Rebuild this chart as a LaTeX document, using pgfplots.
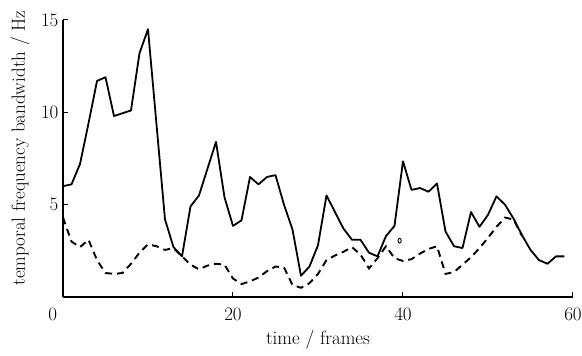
\documentclass[border=0pt]{standalone}
\usepackage{fontspec}
\usepackage{pgfplots}
\pgfplotsset{compat=1.18}
\begin{document}
\fontsize{19}{23}\selectfont
\begin{tikzpicture}
\path[use as bounding box] (-63pt,-59pt) rectangle (519pt,297pt);
\begin{axis}[
 at={(0pt,0pt)}, anchor=south west,
 scale only axis, width=510pt, height=277pt,
 xmin=0, xmax=60, ymin=0, ymax=15,
 /pgf/number format/assume math mode=true,
 axis lines*=left, axis line style={-, line width=1.3pt},
 xtick={0,20,40,60}, xticklabels={\makebox[0pt][r]{0\hspace{6pt}},20,40,60},
 ytick={5,10,15},
 tick align=inside, major tick length=5pt, tick style={line width=1pt, black},
 ticklabel style={font=\fontsize{19}{23}\selectfont},
 xticklabel style={yshift=-4pt},
 yticklabel style={xshift=2pt},
 label style={font=\fontsize{19}{23}\selectfont},
 xlabel={time / frames}, ylabel={temporal frequency bandwidth / Hz},
 xlabel style={at={(axis description cs:0.5,-0.155)}, anchor=center},
 ylabel style={at={(axis description cs:-0.084,0.538)}, anchor=center},
 clip=false,
]
\addplot[black, line width=1.8pt, line join=round] coordinates {
(0,6.0) (1,6.1) (2,7.2) (3,9.4) (4,11.7) (5,11.9) (6,9.8) (7,9.95) (8,10.1) (9,13.2) (10,14.5)
(12,4.2) (13,2.7) (14,2.2) (15,4.9) (16,5.5) (18,8.4) (19,5.4) (20,3.85) (21,4.15)
(22,6.5) (23,6.1) (24,6.5) (25,6.6) (26,5.0) (27,3.65) (28,1.15) (29,1.65) (30,2.8)
(31,5.5) (32,4.6) (33,3.7) (34,3.1) (35,3.1) (36,2.4) (37,2.2) (38,3.3) (39,3.85)
(40,7.35) (41,5.8) (42,5.9) (43,5.7) (44,6.15) (45,3.55) (46,2.75) (47,2.65) (48,4.6)
(49,3.8) (50,4.45) (51,5.45) (52,5.0) (53,4.25) (54,3.35) (55,2.55) (56,2.0) (57,1.8)
(58,2.2) (59,2.2)
};
\addplot[black, line width=1.9pt, dash pattern=on 7pt off 5pt] coordinates {
(0,4.3) (1,3.0) (2,2.7) (3,3.1) (4,2.0) (5,1.3) (6,1.25) (7,1.3) (8,1.8) (9,2.4)
(10,2.85) (11,2.75) (12,2.55) (13,2.65) (14,2.2) (15,1.75) (16,1.5) (17,1.7) (18,1.8)
(19,1.75) (20,1.0) (21,0.7) (22,0.85) (23,1.05) (24,1.4) (25,1.65) (26,1.6) (27,0.65)
(28,0.5) (29,0.75) (30,1.25) (31,2.0) (32,2.25) (33,2.45) (34,2.7) (35,2.3) (36,1.55)
(37,2.1) (38,2.75) (39,2.1) (40,1.95) (41,2.05) (42,2.35) (43,2.6) (44,2.75) (45,1.25)
(46,1.35) (47,1.75) (48,2.15) (49,2.65) (50,3.2) (51,3.8) (52,4.3) (53,4.2) (54,3.3)
};
\addplot[only marks, mark=o, mark size=1.6pt, mark options={yscale=1.5, line width=0.9pt}] coordinates {(39.6,3.05)};
\end{axis}
\end{tikzpicture}
\end{document}
